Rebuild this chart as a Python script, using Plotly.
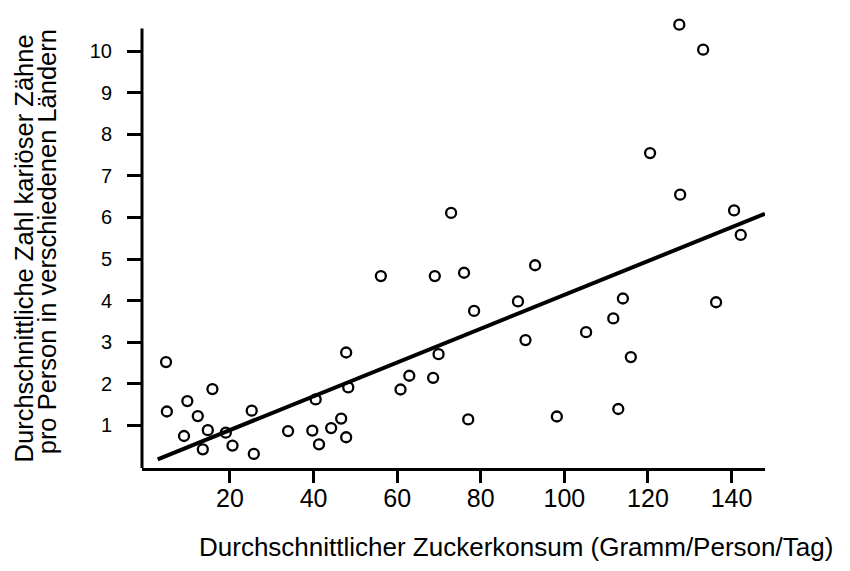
import plotly.graph_objects as go

# Data
sugar = [4.7, 4.9, 9.8, 15.8, 12.3, 9.0, 14.7, 19.0, 13.5, 20.6, 25.2, 25.7,
         47.8, 40.5, 48.3, 33.9, 39.7, 41.3, 44.2, 46.6, 47.8,
         60.8, 62.9, 68.6, 69.9, 77.0, 76.0, 78.4, 93.0, 88.9, 90.7, 98.2,
         105.2, 111.7, 114.0, 115.9, 112.9, 127.7, 136.3, 140.6, 142.2,
         127.5, 133.2, 120.5, 72.9, 56.1, 69.0]
caries = [2.52, 1.33, 1.58, 1.87, 1.22, 0.74, 0.88, 0.82, 0.42, 0.51, 1.35, 0.31,
          2.75, 1.62, 1.91, 0.86, 0.87, 0.54, 0.93, 1.16, 0.71,
          1.86, 2.19, 2.14, 2.71, 1.14, 4.67, 3.75, 4.85, 3.98, 3.05, 1.21,
          3.24, 3.57, 4.05, 2.64, 1.39, 6.55, 3.96, 6.17, 5.58,
          10.64, 10.04, 7.55, 6.11, 4.59, 4.59]

fit_x = [2.7, 148.0]
fit_y = [0.18, 6.09]

x_ticks = [20, 40, 60, 80, 100, 120, 140]
y_ticks = [1, 2, 3, 4, 5, 6, 7, 8, 9, 10]

x_range = [-1.05, 148]
y_range = [-0.03, 10.85]
y_axis_top = 10.55

x_title = "Durchschnittlicher Zuckerkonsum (Gramm/Person/Tag)"
y_title_1 = "Durchschnittliche Zahl kariöser Zähne"
y_title_2 = "pro Person in verschiedenen Ländern"

FONT = "Liberation Sans, Arial, sans-serif"

fig = go.Figure()
fig.add_trace(go.Scatter(
    x=fit_x, y=fit_y, mode="lines",
    line=dict(color="black", width=4),
    hoverinfo="skip", showlegend=False))
fig.add_trace(go.Scatter(
    x=sugar, y=caries, mode="markers",
    marker=dict(symbol="circle-open", size=10, color="black",
                line=dict(color="black", width=2.3)),
    cliponaxis=False, showlegend=False))

# vertical axis line (stops below the topmost point, as in the reference)
fig.add_shape(type="line", xref="paper", yref="y",
              x0=0, x1=0, y0=y_range[0], y1=y_axis_top,
              line=dict(color="black", width=3))

fig.update_layout(
    width=850, height=571,
    margin=dict(l=134, r=93, t=8, b=111),
    paper_bgcolor="white", plot_bgcolor="white",
    font=dict(family=FONT, color="black"),
    xaxis=dict(
        range=x_range, showgrid=False, zeroline=False,
        showline=True, linecolor="black", linewidth=3,
        tickmode="array", tickvals=x_ticks, ticktext=[str(v) for v in x_ticks],
        ticks="outside", ticklen=12, tickwidth=3, tickcolor="black",
        tickfont=dict(size=25, family=FONT, color="black"),
        ticklabelstandoff=-6,
    ),
    yaxis=dict(
        range=y_range, showgrid=False, zeroline=False,
        showline=False,
        tickmode="array", tickvals=y_ticks, ticktext=[str(v) for v in y_ticks],
        ticks="outside", ticklen=14, tickwidth=3, tickcolor="black",
        tickfont=dict(size=20, family=FONT, color="black"),
        ticklabelstandoff=11,
    ),
    annotations=[
        dict(text=x_title, xref="paper", yref="paper", x=1.112, y=-0.175,
             xanchor="right", yanchor="middle", showarrow=False,
             font=dict(size=26, family=FONT, color="black")),
        dict(text=y_title_1, xref="paper", yref="paper", x=-0.19, y=0.485,
             xanchor="center", yanchor="middle", textangle=-90, showarrow=False,
             font=dict(size=25.5, family=FONT, color="black")),
        dict(text=y_title_2, xref="paper", yref="paper", x=-0.152, y=0.5,
             xanchor="center", yanchor="middle", textangle=-90, showarrow=False,
             font=dict(size=25.5, family=FONT, color="black")),
    ],
)

fig.write_html("out.html")
